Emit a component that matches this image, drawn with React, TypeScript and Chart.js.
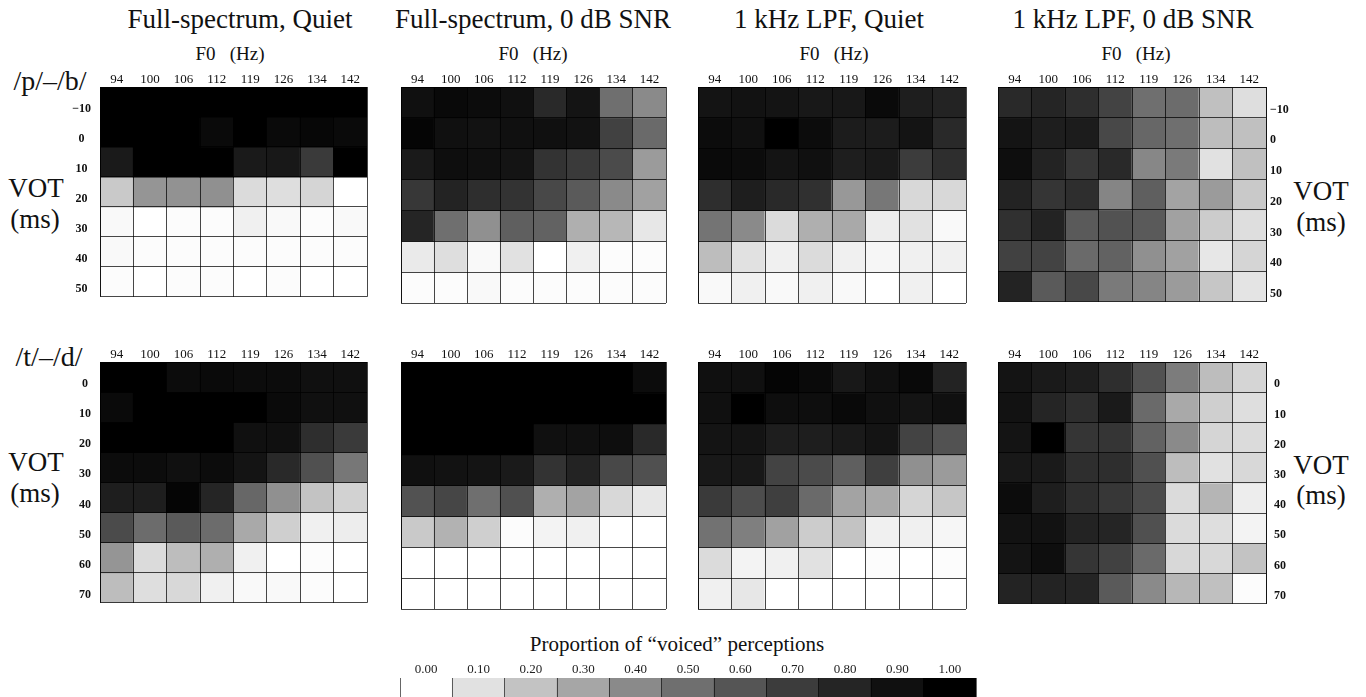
import React, { useEffect, useRef } from 'react';
import { Chart, registerables } from 'chart.js';

Chart.register(...registerables);

const SERIF = "'Liberation Serif', 'Times New Roman', Times, serif";
const LINE = 'rgba(0,0,0,0.72)';

// ---------- data ----------
const F0_HZ = ['94', '100', '106', '112', '119', '126', '134', '142'];
const VOT_PB = ['\u221210', '0', '10', '20', '30', '40', '50'];
const VOT_TD = ['0', '10', '20', '30', '40', '50', '60', '70'];

// proportion of "voiced" perceptions; rows = VOT, columns = F0
const PB_FULL_QUIET = [
  [1.0, 1.0, 1.0, 1.0, 1.0, 1.0, 1.0, 1.0],
  [1.0, 1.0, 1.0, 0.93, 1.0, 0.93, 0.95, 0.93],
  [0.85, 1.0, 1.0, 1.0, 0.85, 0.86, 0.71, 1.0],
  [0.18, 0.36, 0.37, 0.38, 0.12, 0.11, 0.14, 0.0],
  [0.02, 0.0, 0.01, 0.01, 0.05, 0.02, 0.01, 0.02],
  [0.02, 0.01, 0.01, 0.01, 0.01, 0.01, 0.01, 0.01],
  [0.01, 0.0, 0.01, 0.01, 0.0, 0.01, 0.0, 0.0],
];
const PB_FULL_SNR = [
  [0.9, 0.94, 0.92, 0.9, 0.78, 0.88, 0.5, 0.4],
  [0.96, 0.9, 0.89, 0.9, 0.9, 0.89, 0.68, 0.52],
  [0.85, 0.91, 0.9, 0.88, 0.74, 0.71, 0.64, 0.34],
  [0.72, 0.81, 0.76, 0.74, 0.65, 0.58, 0.4, 0.32],
  [0.8, 0.5, 0.38, 0.56, 0.55, 0.27, 0.24, 0.08],
  [0.07, 0.11, 0.02, 0.1, 0.0, 0.05, 0.01, 0.01],
  [0.01, 0.01, 0.02, 0.01, 0.01, 0.01, 0.01, 0.01],
];
const PB_LPF_QUIET = [
  [0.88, 0.89, 0.88, 0.86, 0.86, 0.93, 0.83, 0.81],
  [0.92, 0.9, 1.0, 0.92, 0.84, 0.84, 0.88, 0.78],
  [0.93, 0.92, 0.88, 0.9, 0.83, 0.85, 0.7, 0.76],
  [0.76, 0.83, 0.78, 0.75, 0.35, 0.47, 0.13, 0.13],
  [0.48, 0.4, 0.12, 0.27, 0.29, 0.06, 0.1, 0.02],
  [0.22, 0.1, 0.05, 0.12, 0.05, 0.03, 0.05, 0.05],
  [0.02, 0.05, 0.02, 0.05, 0.02, 0.0, 0.05, 0.0],
];
const PB_LPF_SNR = [
  [0.78, 0.8, 0.76, 0.67, 0.5, 0.51, 0.21, 0.11],
  [0.88, 0.83, 0.84, 0.65, 0.53, 0.5, 0.22, 0.21],
  [0.91, 0.81, 0.72, 0.78, 0.41, 0.46, 0.1, 0.21],
  [0.81, 0.73, 0.76, 0.42, 0.56, 0.31, 0.34, 0.18],
  [0.75, 0.81, 0.58, 0.61, 0.58, 0.32, 0.17, 0.11],
  [0.68, 0.67, 0.52, 0.55, 0.38, 0.32, 0.08, 0.14],
  [0.81, 0.58, 0.65, 0.46, 0.42, 0.34, 0.19, 0.09],
];
const TD_FULL_QUIET = [
  [1.0, 1.0, 0.92, 0.93, 0.92, 0.92, 0.9, 0.9],
  [0.93, 1.0, 1.0, 1.0, 1.0, 0.93, 0.9, 0.9],
  [1.0, 1.0, 1.0, 1.0, 0.9, 0.9, 0.76, 0.71],
  [0.92, 0.92, 0.9, 0.92, 0.88, 0.78, 0.62, 0.47],
  [0.83, 0.83, 0.96, 0.8, 0.53, 0.38, 0.2, 0.15],
  [0.64, 0.51, 0.58, 0.51, 0.29, 0.16, 0.05, 0.06],
  [0.36, 0.12, 0.22, 0.27, 0.05, 0.0, 0.01, 0.0],
  [0.22, 0.11, 0.13, 0.05, 0.02, 0.02, 0.01, 0.0],
];
const TD_FULL_SNR = [
  [1.0, 1.0, 1.0, 1.0, 1.0, 1.0, 1.0, 0.92],
  [1.0, 1.0, 1.0, 1.0, 1.0, 1.0, 1.0, 1.0],
  [1.0, 1.0, 1.0, 1.0, 0.9, 0.9, 0.91, 0.78],
  [0.9, 0.89, 0.88, 0.85, 0.74, 0.81, 0.65, 0.62],
  [0.61, 0.66, 0.5, 0.62, 0.27, 0.31, 0.13, 0.08],
  [0.18, 0.26, 0.16, 0.01, 0.04, 0.05, 0.0, 0.0],
  [0.0, 0.0, 0.0, 0.0, 0.0, 0.0, 0.0, 0.0],
  [0.0, 0.0, 0.0, 0.0, 0.0, 0.0, 0.0, 0.0],
];
const TD_LPF_QUIET = [
  [0.9, 0.9, 0.96, 0.93, 0.86, 0.9, 0.94, 0.81],
  [0.9, 1.0, 0.91, 0.91, 0.94, 0.9, 0.88, 0.9],
  [0.88, 0.88, 0.83, 0.83, 0.85, 0.88, 0.67, 0.61],
  [0.86, 0.86, 0.67, 0.64, 0.56, 0.69, 0.38, 0.34],
  [0.71, 0.63, 0.69, 0.52, 0.31, 0.29, 0.14, 0.19],
  [0.49, 0.44, 0.32, 0.17, 0.2, 0.05, 0.05, 0.03],
  [0.12, 0.04, 0.05, 0.1, 0.0, 0.01, 0.0, 0.01],
  [0.05, 0.08, 0.0, 0.0, 0.0, 0.0, 0.0, 0.0],
];
const TD_LPF_SNR = [
  [0.88, 0.85, 0.83, 0.76, 0.61, 0.45, 0.22, 0.14],
  [0.89, 0.8, 0.76, 0.85, 0.52, 0.29, 0.16, 0.11],
  [0.88, 1.0, 0.73, 0.73, 0.55, 0.4, 0.14, 0.12],
  [0.86, 0.85, 0.76, 0.76, 0.62, 0.22, 0.1, 0.13],
  [0.92, 0.83, 0.76, 0.72, 0.64, 0.12, 0.25, 0.06],
  [0.89, 0.89, 0.81, 0.8, 0.62, 0.12, 0.11, 0.04],
  [0.88, 0.91, 0.73, 0.68, 0.52, 0.13, 0.13, 0.2],
  [0.81, 0.81, 0.8, 0.58, 0.4, 0.24, 0.21, 0.01],
];

const LEGEND_LEVELS = [0.0, 0.1, 0.2, 0.3, 0.4, 0.5, 0.6, 0.7, 0.8, 0.9, 1.0];
const LEGEND_LABELS = ['0.00', '0.10', '0.20', '0.30', '0.40', '0.50', '0.60', '0.70', '0.80', '0.90', '1.00'];

const PANEL_TITLES = ['Full-spectrum, Quiet', 'Full-spectrum, 0 dB SNR', '1 kHz LPF, Quiet', '1 kHz LPF, 0 dB SNR'];

// ---------- helpers ----------
function grayFor(p: number): string {
  const g = Math.round(255 * Math.pow(Math.max(0, 1 - p), 1.2));
  return `rgb(${g},${g},${g})`;
}

type Axis = 'left' | 'right' | 'none';
interface PanelSpec {
  key: string;
  data: number[][];
  rows: string[];
  gridLeft: number;
  gridWidth: number;
  gridTop: number;
  gridHeight: number;
  axis: Axis;
  labelPad: number;
}

const HX = 20;
const WY = 40;
const PAD = 4;
const PADB = 10;

const TOP_ROW = { top: 87, height: 216 };
const BOT_ROW = { top: 362, height: 247 };
const COLS = [
  { left: 100, width: 267 },
  { left: 401, width: 265 },
  { left: 698, width: 268 },
  { left: 998, width: 268 },
];

const PANELS: PanelSpec[] = [
  { key: 'p1', data: PB_FULL_QUIET, rows: VOT_PB, gridLeft: COLS[0].left, gridWidth: COLS[0].width, gridTop: TOP_ROW.top, gridHeight: TOP_ROW.height, axis: 'left', labelPad: 9 },
  { key: 'p2', data: PB_FULL_SNR, rows: VOT_PB, gridLeft: COLS[1].left, gridWidth: COLS[1].width, gridTop: TOP_ROW.top, gridHeight: TOP_ROW.height, axis: 'none', labelPad: 0 },
  { key: 'p3', data: PB_LPF_QUIET, rows: VOT_PB, gridLeft: COLS[2].left, gridWidth: COLS[2].width, gridTop: TOP_ROW.top, gridHeight: TOP_ROW.height, axis: 'none', labelPad: 0 },
  { key: 'p4', data: PB_LPF_SNR, rows: VOT_PB, gridLeft: COLS[3].left, gridWidth: COLS[3].width, gridTop: TOP_ROW.top, gridHeight: TOP_ROW.height, axis: 'right', labelPad: 4 },
  { key: 'p5', data: TD_FULL_QUIET, rows: VOT_TD, gridLeft: COLS[0].left, gridWidth: COLS[0].width, gridTop: BOT_ROW.top, gridHeight: BOT_ROW.height, axis: 'left', labelPad: 9 },
  { key: 'p6', data: TD_FULL_SNR, rows: VOT_TD, gridLeft: COLS[1].left, gridWidth: COLS[1].width, gridTop: BOT_ROW.top, gridHeight: BOT_ROW.height, axis: 'none', labelPad: 0 },
  { key: 'p7', data: TD_LPF_QUIET, rows: VOT_TD, gridLeft: COLS[2].left, gridWidth: COLS[2].width, gridTop: BOT_ROW.top, gridHeight: BOT_ROW.height, axis: 'none', labelPad: 0 },
  { key: 'p8', data: TD_LPF_SNR, rows: VOT_TD, gridLeft: COLS[3].left, gridWidth: COLS[3].width, gridTop: BOT_ROW.top, gridHeight: BOT_ROW.height, axis: 'right', labelPad: 8 },
];

function panelBox(p: PanelSpec) {
  const left = p.axis === 'left' ? p.gridLeft - WY : p.gridLeft - PAD;
  const width =
    p.axis === 'left' ? WY + p.gridWidth + PAD : p.axis === 'right' ? PAD + p.gridWidth + WY : PAD + p.gridWidth + PAD;
  return { left, top: p.gridTop - HX, width, height: HX + p.gridHeight + PADB };
}

function heatmapConfig(p: PanelSpec): any {
  const nRows = p.rows.length;
  const datasets = p.data.map((row, i) => ({
    label: p.rows[i],
    data: row.map(() => 1),
    backgroundColor: row.map(grayFor),
    borderWidth: 0,
    barPercentage: 1,
    categoryPercentage: 1,
    inflateAmount: 0.5,
  }));
  return {
    type: 'bar',
    data: { labels: F0_HZ, datasets },
    options: {
      responsive: true,
      maintainAspectRatio: false,
      animation: false,
      events: [],
      layout: {
        padding: {
          left: p.axis === 'left' ? 0 : PAD,
          right: p.axis === 'right' ? 0 : PAD,
          top: 0,
          bottom: PADB,
        },
      },
      plugins: { legend: { display: false }, tooltip: { enabled: false }, title: { display: false } },
      scales: {
        x: {
          type: 'category',
          position: 'top',
          stacked: true,
          offset: true,
          grid: { display: true, offset: true, drawTicks: false, color: LINE, lineWidth: 1, z: 1 },
          border: { display: true, color: LINE, z: 1 },
          ticks: {
            autoSkip: false,
            maxRotation: 0,
            minRotation: 0,
            padding: 0,
            color: '#111',
            font: { family: SERIF, size: 13 },
          },
          afterFit: (s: any) => {
            s.height = HX;
          },
        },
        y: {
          type: 'linear',
          position: p.axis === 'right' ? 'right' : 'left',
          stacked: true,
          reverse: true,
          min: 0,
          max: nRows,
          grid: { display: true, drawTicks: false, color: LINE, lineWidth: 1, z: 1 },
          border: { display: true, color: LINE, z: 1 },
          ticks: {
            display: p.axis !== 'none',
            stepSize: 1,
            autoSkip: false,
            labelOffset: -8,
            padding: p.labelPad,
            crossAlign: p.axis === 'right' ? 'near' : 'center',
            color: '#111',
            font: { family: SERIF, size: 12, weight: 'bold' },
            callback: (v: any) => {
              const k = Math.round(Number(v));
              return k >= 1 && k <= nRows ? p.rows[k - 1] : '';
            },
          },
          afterFit: (s: any) => {
            s.width = p.axis === 'none' ? 0 : WY;
          },
        },
      },
    },
  };
}

const LEGEND_BOX = { left: 398, top: 658, width: 592, height: 39 };

function legendConfig(): any {
  return {
    type: 'bar',
    data: {
      labels: LEGEND_LABELS,
      datasets: [
        {
          data: LEGEND_LEVELS.map(() => 1),
          backgroundColor: LEGEND_LEVELS.map(grayFor),
          borderWidth: 0,
          barPercentage: 1,
          categoryPercentage: 1,
          inflateAmount: 0.5,
        },
      ],
    },
    options: {
      responsive: true,
      maintainAspectRatio: false,
      animation: false,
      events: [],
      layout: { padding: { left: 2, right: 14, top: 0, bottom: 0 } },
      plugins: { legend: { display: false }, tooltip: { enabled: false } },
      scales: {
        x: {
          type: 'category',
          position: 'top',
          offset: true,
          grid: { display: true, offset: true, drawTicks: false, color: 'rgba(0,0,0,0.6)', lineWidth: 1, z: 1 },
          border: { display: false },
          ticks: {
            autoSkip: false,
            maxRotation: 0,
            padding: 1,
            color: '#222',
            font: { family: SERIF, size: 13 },
          },
          afterFit: (s: any) => {
            s.height = 20;
          },
        },
        y: { display: false, min: 0, max: 1 },
      },
    },
  };
}

function ChartBox({ box, config }: { box: { left: number; top: number; width: number; height: number }; config: () => any }) {
  const ref = useRef<HTMLCanvasElement | null>(null);
  useEffect(() => {
    if (!ref.current) return;
    const chart = new Chart(ref.current, config());
    return () => {
      chart.destroy();
    };
  }, []);
  return (
    <div style={{ position: 'absolute', left: box.left, top: box.top, width: box.width, height: box.height }}>
      <canvas ref={ref} />
    </div>
  );
}

function Label({ x, y, size, text }: { x: number; y: number; size: number; text: string }) {
  return (
    <div
      style={{
        position: 'absolute',
        left: x,
        top: y,
        transform: 'translate(-50%, -50%)',
        fontFamily: SERIF,
        fontSize: size,
        lineHeight: 1,
        whiteSpace: 'pre',
        color: '#111',
      }}
    >
      {text}
    </div>
  );
}

const TITLE_X = [240, 533, 829, 1133];
const F0_X = [230, 533, 834, 1136];

export default function App() {
  return (
    <div
      style={{
        position: 'absolute',
        left: 0,
        top: 0,
        width: 1366,
        height: 697,
        overflow: 'hidden',
        background: '#ffffff',
      }}
    >
      {PANEL_TITLES.map((t, i) => (
        <Label key={'t' + i} x={TITLE_X[i]} y={19} size={27} text={t} />
      ))}
      {F0_X.map((x, i) => (
        <Label key={'f' + i} x={x} y={53} size={19} text={'F0   (Hz)'} />
      ))}
      <Label x={50} y={81} size={28} text={'/p/\u2013/b/'} />
      <Label x={49} y={357} size={28} text={'/t/\u2013/d/'} />
      <Label x={36} y={188} size={27} text="VOT" />
      <Label x={35} y={219} size={27} text="(ms)" />
      <Label x={36} y={462} size={27} text="VOT" />
      <Label x={35} y={493} size={27} text="(ms)" />
      <Label x={1321} y={191} size={27} text="VOT" />
      <Label x={1321} y={222} size={27} text="(ms)" />
      <Label x={1321} y={465} size={27} text="VOT" />
      <Label x={1321} y={495} size={27} text="(ms)" />
      <Label x={677} y={644} size={21} text={'Proportion of \u201cvoiced\u201d perceptions'} />
      {PANELS.map((p) => (
        <ChartBox key={p.key} box={panelBox(p)} config={() => heatmapConfig(p)} />
      ))}
      <ChartBox box={LEGEND_BOX} config={legendConfig} />
    </div>
  );
}
